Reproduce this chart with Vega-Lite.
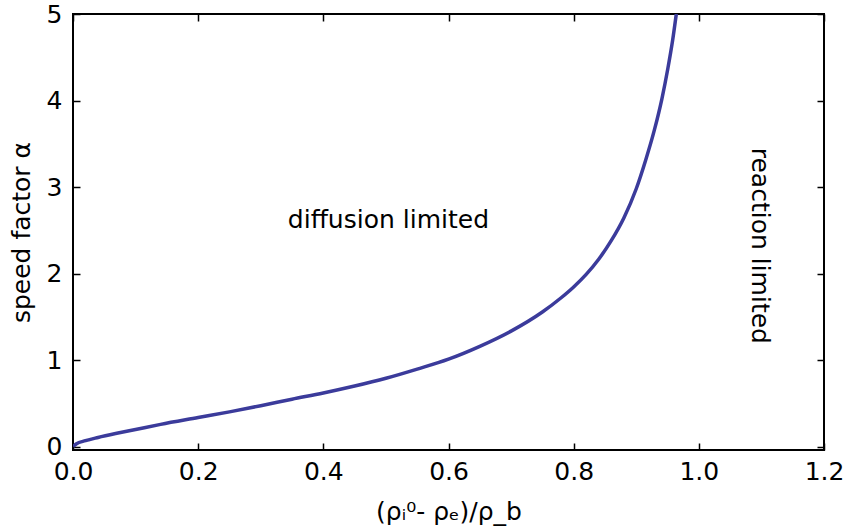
{
  "$schema": "https://vega.github.io/schema/vega-lite/v6.json",
  "width": 751,
  "height": 436,
  "autosize": {"type": "none"},
  "padding": {"left": 73, "top": 14, "right": 22, "bottom": 80},
  "background": "white",
  "config": {
    "font": "DejaVu Sans",
    "view": {"stroke": "black", "strokeWidth": 2},
    "axis": {
      "grid": false,
      "domain": false,
      "tickColor": "black",
      "tickSize": -7,
      "tickWidth": 1.5,
      "labelColor": "black",
      "labelFont": "DejaVu Sans",
      "labelFontSize": 25,
      "labelFlush": false,
      "labelOverlap": false,
      "titleFont": "DejaVu Sans",
      "titleFontSize": 25,
      "titleFontWeight": "normal",
      "titleColor": "black"
    }
  },
  "datasets": {
    "curve": [
      {"x": 0.0, "alpha": 0.0},
      {"x": 0.005, "alpha": 0.03},
      {"x": 0.02, "alpha": 0.068},
      {"x": 0.04, "alpha": 0.105},
      {"x": 0.07, "alpha": 0.153},
      {"x": 0.1, "alpha": 0.197},
      {"x": 0.14, "alpha": 0.256},
      {"x": 0.2, "alpha": 0.335},
      {"x": 0.25, "alpha": 0.401},
      {"x": 0.3, "alpha": 0.472},
      {"x": 0.35, "alpha": 0.547},
      {"x": 0.4, "alpha": 0.619},
      {"x": 0.45, "alpha": 0.699},
      {"x": 0.5, "alpha": 0.789},
      {"x": 0.55, "alpha": 0.895},
      {"x": 0.6, "alpha": 1.01},
      {"x": 0.65, "alpha": 1.158},
      {"x": 0.7, "alpha": 1.334},
      {"x": 0.75, "alpha": 1.555},
      {"x": 0.78, "alpha": 1.72},
      {"x": 0.8, "alpha": 1.845},
      {"x": 0.82, "alpha": 1.99},
      {"x": 0.84, "alpha": 2.165},
      {"x": 0.86, "alpha": 2.38},
      {"x": 0.88, "alpha": 2.64},
      {"x": 0.9, "alpha": 2.98},
      {"x": 0.915, "alpha": 3.31},
      {"x": 0.929, "alpha": 3.66},
      {"x": 0.941, "alpha": 4.02},
      {"x": 0.9505, "alpha": 4.37},
      {"x": 0.958, "alpha": 4.69},
      {"x": 0.964, "alpha": 5.0}
    ],
    "labels": [
      {"x": 0.504, "alpha": 2.62, "text": "diffusion limited", "angle": 0},
      {"x": 1.098, "alpha": 2.32, "text": "reaction limited", "angle": 90}
    ]
  },
  "resolve": {"axis": {"x": "independent", "y": "independent"}},
  "layer": [
    {
      "data": {"name": "curve"},
      "mark": {"type": "line", "color": "#3b3b9b", "strokeWidth": 3.5, "clip": true, "interpolate": "monotone"},
      "encoding": {
        "x": {
          "field": "x", "type": "quantitative",
          "scale": {"domain": [0, 1.2], "nice": false, "zero": false},
          "axis": {"orient": "bottom", "values": [0, 0.2, 0.4, 0.6, 0.8, 1.0, 1.2], "format": ".1f", "labelPadding": 16, "title": "(ρᵢ⁰- ρₑ)/ρ_b", "titlePadding": 15}
        },
        "y": {
          "field": "alpha", "type": "quantitative",
          "scale": {"domain": [-0.04, 5], "nice": false, "zero": false},
          "axis": {"orient": "left", "values": [0, 1, 2, 3, 4, 5], "format": "d", "labelPadding": 18, "title": "speed factor α", "titlePadding": 12}
        }
      }
    },
    {
      "data": {"name": "curve"},
      "mark": {"type": "line", "strokeOpacity": 0},
      "encoding": {
        "x": {"field": "x", "type": "quantitative", "axis": {"orient": "top", "values": [0, 0.2, 0.4, 0.6, 0.8, 1.0, 1.2], "labels": false, "title": null}},
        "y": {"field": "alpha", "type": "quantitative", "axis": {"orient": "right", "values": [0, 1, 2, 3, 4, 5], "labels": false, "title": null}}
      }
    },
    {
      "mark": {"type": "rule", "color": "black", "strokeWidth": 2.3, "strokeDash": [14, 14]},
      "encoding": {"x": {"datum": 1.0, "type": "quantitative", "axis": null}}
    },
    {
      "data": {"name": "labels"},
      "mark": {"type": "text", "fontSize": 25, "font": "DejaVu Sans", "color": "black", "align": "center", "baseline": "middle"},
      "encoding": {
        "x": {"field": "x", "type": "quantitative", "axis": null},
        "y": {"field": "alpha", "type": "quantitative", "axis": null},
        "text": {"field": "text"},
        "angle": {"field": "angle", "type": "quantitative", "scale": null}
      }
    }
  ]
}
